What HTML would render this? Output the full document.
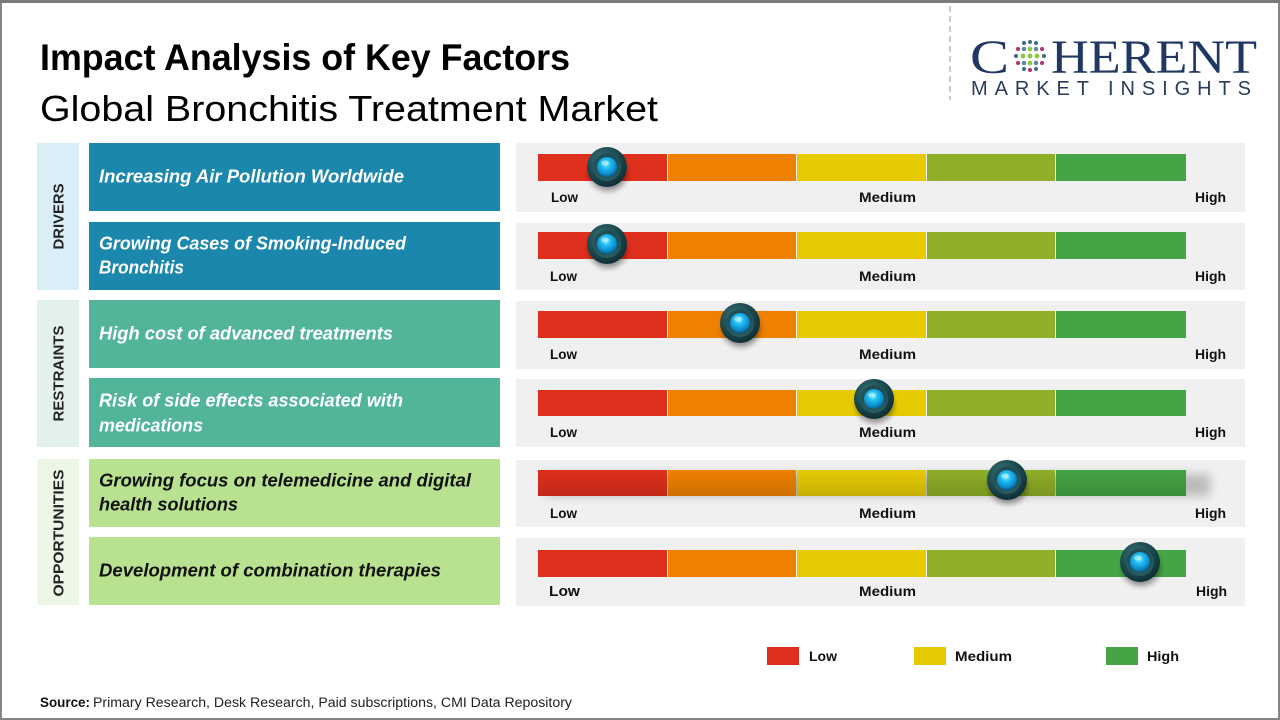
<!DOCTYPE html>
<html>
<head>
<meta charset="utf-8">
<style>
  html,body{margin:0;padding:0;background:#fff;}
  svg{display:block;}
  text{font-family:"Liberation Sans",sans-serif;}
</style>
</head>
<body>
<svg width="1280" height="720" viewBox="0 0 1280 720" xmlns="http://www.w3.org/2000/svg">
  <defs>
    <radialGradient id="ring" cx="40%" cy="35%" r="70%">
      <stop offset="0%" stop-color="#3f7a80"/>
      <stop offset="55%" stop-color="#1c4b51"/>
      <stop offset="100%" stop-color="#0c2c31"/>
    </radialGradient>
    <radialGradient id="inner" cx="50%" cy="40%" r="60%">
      <stop offset="0%" stop-color="#123a40"/>
      <stop offset="100%" stop-color="#2a5e63"/>
    </radialGradient>
    <radialGradient id="ball" cx="45%" cy="35%" r="65%">
      <stop offset="0%" stop-color="#8eeaff"/>
      <stop offset="35%" stop-color="#22bff2"/>
      <stop offset="80%" stop-color="#0a88c8"/>
      <stop offset="100%" stop-color="#0a5c8a"/>
    </radialGradient>
    <filter id="blur4" x="-50%" y="-50%" width="200%" height="200%">
      <feGaussianBlur stdDeviation="3"/>
    </filter>
    <filter id="blur6" x="-20%" y="-100%" width="140%" height="300%">
      <feGaussianBlur stdDeviation="5"/>
    </filter>
    <linearGradient id="dark" x1="0" y1="0" x2="0" y2="1">
      <stop offset="0%" stop-color="#000" stop-opacity="0"/>
      <stop offset="100%" stop-color="#000" stop-opacity="0.14"/>
    </linearGradient>
    <g id="knob">
      <ellipse cx="1" cy="6" rx="19" ry="18" fill="#000" opacity="0.4" filter="url(#blur4)"/>
      <circle cx="0" cy="0" r="20" fill="url(#ring)"/>
      <circle cx="0" cy="0" r="14" fill="url(#inner)"/>
      <circle cx="0" cy="0" r="10" fill="url(#ball)"/>
      <ellipse cx="-2" cy="-4" rx="4" ry="2.5" fill="#c8f6ff" opacity="0.55"/>
    </g>
  </defs>

  <!-- frame -->
  <rect x="0" y="0" width="1280" height="720" fill="#fff"/>
  <rect x="1" y="1" width="1278" height="718" fill="none" stroke="#858585" stroke-width="2"/>
  <line x1="0" y1="1.5" x2="1280" y2="1.5" stroke="#7a7a7a" stroke-width="3"/>

  <!-- titles -->
  <text x="40" y="70" font-size="37" font-weight="bold" fill="#000" textLength="530" lengthAdjust="spacingAndGlyphs">Impact Analysis of Key Factors</text>
  <text x="40" y="121" font-size="36" fill="#000" textLength="618" lengthAdjust="spacingAndGlyphs">Global Bronchitis Treatment Market</text>

  <!-- logo -->
  <line x1="950" y1="6" x2="950" y2="100" stroke="#b8b8b8" stroke-width="1.5" stroke-dasharray="6,4"/>
  <text x="970" y="73" font-size="48" fill="#1f3762" style="font-family:'Liberation Serif',serif" textLength="39" lengthAdjust="spacingAndGlyphs">C</text>
  <g>
    <circle cx="1024" cy="43" r="2" fill="#3d6b8c"/><circle cx="1030" cy="42" r="2" fill="#3d6b8c"/><circle cx="1036" cy="43" r="2" fill="#3d6b8c"/>
    <circle cx="1018" cy="49" r="2" fill="#b0306a"/><circle cx="1024" cy="49" r="2.3" fill="#5b8fa8"/><circle cx="1030" cy="49" r="2.3" fill="#8cc63f"/><circle cx="1036" cy="49" r="2.3" fill="#5b8fa8"/><circle cx="1042" cy="49" r="2" fill="#b0306a"/>
    <circle cx="1016" cy="56" r="2" fill="#3d6b8c"/><circle cx="1023" cy="56" r="2.4" fill="#8cc63f"/><circle cx="1030" cy="56" r="2.5" fill="#8cc63f"/><circle cx="1037" cy="56" r="2.4" fill="#8cc63f"/><circle cx="1044" cy="56" r="2" fill="#3d6b8c"/>
    <circle cx="1018" cy="63" r="2" fill="#b0306a"/><circle cx="1024" cy="63" r="2.3" fill="#5b8fa8"/><circle cx="1030" cy="63" r="2.3" fill="#8cc63f"/><circle cx="1036" cy="63" r="2.3" fill="#5b8fa8"/><circle cx="1042" cy="63" r="2" fill="#b0306a"/>
    <circle cx="1024" cy="69" r="2" fill="#3d6b8c"/><circle cx="1030" cy="70" r="2" fill="#b0306a"/><circle cx="1036" cy="69" r="2" fill="#3d6b8c"/>
  </g>
  <text x="1051" y="73" font-size="48" fill="#1f3762" style="font-family:'Liberation Serif',serif" textLength="206" lengthAdjust="spacingAndGlyphs">HERENT</text>
  <text x="971" y="95" font-size="20" fill="#2b3b5c" textLength="280" lengthAdjust="spacing">MARKET INSIGHTS</text>

  <!-- side category boxes -->
  <rect x="37" y="143" width="42" height="147" fill="#daeef8"/>
  <rect x="37" y="300" width="42" height="147" fill="#e3f1ee"/>
  <rect x="37" y="459" width="42" height="146" fill="#edf7e5"/>
  <text transform="translate(63.5,216.5) rotate(-90)" text-anchor="middle" font-size="15" font-weight="bold" fill="#222" textLength="66" lengthAdjust="spacingAndGlyphs">DRIVERS</text>
  <text transform="translate(63.5,373.5) rotate(-90)" text-anchor="middle" font-size="15" font-weight="bold" fill="#222" textLength="96" lengthAdjust="spacingAndGlyphs">RESTRAINTS</text>
  <text transform="translate(63.5,533) rotate(-90)" text-anchor="middle" font-size="15" font-weight="bold" fill="#222" textLength="127" lengthAdjust="spacingAndGlyphs">OPPORTUNITIES</text>

  <!-- factor boxes -->
  <rect x="89" y="143" width="411" height="68" fill="#1c87ad"/>
  <rect x="89" y="222" width="411" height="68" fill="#1c87ad"/>
  <rect x="89" y="300" width="411" height="68" fill="#52b59a"/>
  <rect x="89" y="378" width="411" height="69" fill="#52b59a"/>
  <rect x="89" y="459" width="411" height="68" fill="#b8e290"/>
  <rect x="89" y="537" width="411" height="68" fill="#b8e290"/>

  <g font-size="18" font-weight="bold" font-style="italic">
    <text x="99" y="182.5" fill="#fff" textLength="305" lengthAdjust="spacingAndGlyphs">Increasing Air Pollution Worldwide</text>
    <text x="99" y="249.5" fill="#fff" textLength="307" lengthAdjust="spacingAndGlyphs">Growing Cases of Smoking-Induced</text>
    <text x="99" y="273.5" fill="#fff" textLength="85" lengthAdjust="spacingAndGlyphs">Bronchitis</text>
    <text x="99" y="339.5" fill="#fff" textLength="294" lengthAdjust="spacingAndGlyphs">High cost of advanced treatments</text>
    <text x="99" y="406.5" fill="#fff" textLength="304" lengthAdjust="spacingAndGlyphs">Risk of side effects associated with</text>
    <text x="99" y="431.5" fill="#fff" textLength="104" lengthAdjust="spacingAndGlyphs">medications</text>
    <text x="99" y="486.5" fill="#111" textLength="372" lengthAdjust="spacingAndGlyphs">Growing focus on telemedicine and digital</text>
    <text x="99" y="510.5" fill="#111" textLength="139" lengthAdjust="spacingAndGlyphs">health solutions</text>
    <text x="99" y="576.5" fill="#111" textLength="342" lengthAdjust="spacingAndGlyphs">Development of combination therapies</text>
  </g>

  <!-- panels -->
  <g fill="#f0f0f1">
    <rect x="516" y="143" width="729" height="69"/>
    <rect x="516" y="223" width="729" height="67"/>
    <rect x="516" y="301" width="729" height="68"/>
    <rect x="516" y="379" width="729" height="68"/>
    <rect x="516" y="460" width="729" height="67"/>
    <rect x="516" y="538" width="729" height="68"/>
  </g>

  <!-- row5 shadow -->
  <rect x="545" y="474" width="665" height="22" fill="#000" opacity="0.22" filter="url(#blur6)"/>

  <!-- bars -->
  <g id="bars">
    <g transform="translate(0,154)">
      <rect x="538" y="0" width="129" height="27" fill="#df2f1d"/><rect x="668" y="0" width="128" height="27" fill="#ee8101"/><rect x="797" y="0" width="129" height="27" fill="#e6cb04"/><rect x="927" y="0" width="128" height="27" fill="#8eaf27"/><rect x="1056" y="0" width="130" height="27" fill="#45a445"/>
    </g>
    <g transform="translate(0,232)">
      <rect x="538" y="0" width="129" height="27" fill="#df2f1d"/><rect x="668" y="0" width="128" height="27" fill="#ee8101"/><rect x="797" y="0" width="129" height="27" fill="#e6cb04"/><rect x="927" y="0" width="128" height="27" fill="#8eaf27"/><rect x="1056" y="0" width="130" height="27" fill="#45a445"/>
    </g>
    <g transform="translate(0,311)">
      <rect x="538" y="0" width="129" height="27" fill="#df2f1d"/><rect x="668" y="0" width="128" height="27" fill="#ee8101"/><rect x="797" y="0" width="129" height="27" fill="#e6cb04"/><rect x="927" y="0" width="128" height="27" fill="#8eaf27"/><rect x="1056" y="0" width="130" height="27" fill="#45a445"/>
    </g>
    <g transform="translate(0,390)">
      <rect x="538" y="0" width="129" height="26" fill="#df2f1d"/><rect x="668" y="0" width="128" height="26" fill="#ee8101"/><rect x="797" y="0" width="129" height="26" fill="#e6cb04"/><rect x="927" y="0" width="128" height="26" fill="#8eaf27"/><rect x="1056" y="0" width="130" height="26" fill="#45a445"/>
    </g>
    <g transform="translate(0,470)">
      <rect x="538" y="0" width="129" height="26" fill="#df2f1d"/><rect x="668" y="0" width="128" height="26" fill="#ee8101"/><rect x="797" y="0" width="129" height="26" fill="#e6cb04"/><rect x="927" y="0" width="128" height="26" fill="#8eaf27"/><rect x="1056" y="0" width="130" height="26" fill="#45a445"/>
      <rect x="538" y="0" width="648" height="26" fill="url(#dark)"/>
    </g>
    <g transform="translate(0,550)">
      <rect x="538" y="0" width="129" height="27" fill="#df2f1d"/><rect x="668" y="0" width="128" height="27" fill="#ee8101"/><rect x="797" y="0" width="129" height="27" fill="#e6cb04"/><rect x="927" y="0" width="128" height="27" fill="#8eaf27"/><rect x="1056" y="0" width="130" height="27" fill="#45a445"/>
    </g>
  </g>

  <!-- scale labels -->
  <g font-size="14" font-weight="bold" fill="#111">
    <text x="551" y="202" textLength="27" lengthAdjust="spacingAndGlyphs">Low</text>
    <text x="859" y="202" textLength="57" lengthAdjust="spacingAndGlyphs">Medium</text>
    <text x="1195" y="202" textLength="31" lengthAdjust="spacingAndGlyphs">High</text>

    <text x="550" y="281" textLength="27" lengthAdjust="spacingAndGlyphs">Low</text>
    <text x="859" y="281" textLength="57" lengthAdjust="spacingAndGlyphs">Medium</text>
    <text x="1195" y="281" textLength="31" lengthAdjust="spacingAndGlyphs">High</text>

    <text x="550" y="359" textLength="27" lengthAdjust="spacingAndGlyphs">Low</text>
    <text x="859" y="359" textLength="57" lengthAdjust="spacingAndGlyphs">Medium</text>
    <text x="1195" y="359" textLength="31" lengthAdjust="spacingAndGlyphs">High</text>

    <text x="550" y="437" textLength="27" lengthAdjust="spacingAndGlyphs">Low</text>
    <text x="859" y="437" textLength="57" lengthAdjust="spacingAndGlyphs">Medium</text>
    <text x="1195" y="437" textLength="31" lengthAdjust="spacingAndGlyphs">High</text>

    <text x="550" y="518" textLength="27" lengthAdjust="spacingAndGlyphs">Low</text>
    <text x="859" y="518" textLength="57" lengthAdjust="spacingAndGlyphs">Medium</text>
    <text x="1195" y="518" textLength="31" lengthAdjust="spacingAndGlyphs">High</text>

    <text x="549" y="596" font-size="15" textLength="31" lengthAdjust="spacingAndGlyphs">Low</text>
    <text x="859" y="596" textLength="57" lengthAdjust="spacingAndGlyphs">Medium</text>
    <text x="1196" y="596" textLength="31" lengthAdjust="spacingAndGlyphs">High</text>
  </g>

  <!-- knobs -->
  <use href="#knob" x="607" y="167"/>
  <use href="#knob" x="607" y="244"/>
  <use href="#knob" x="740" y="323"/>
  <use href="#knob" x="874" y="399"/>
  <use href="#knob" x="1007" y="480"/>
  <use href="#knob" x="1140" y="562"/>

  <!-- legend -->
  <rect x="767" y="647" width="32" height="18" fill="#df2f1d"/>
  <text x="809" y="661" font-size="14" font-weight="bold" fill="#111" textLength="28" lengthAdjust="spacingAndGlyphs">Low</text>
  <rect x="914" y="647" width="32" height="18" fill="#e6cb04"/>
  <text x="955" y="661" font-size="14" font-weight="bold" fill="#111" textLength="57" lengthAdjust="spacingAndGlyphs">Medium</text>
  <rect x="1106" y="647" width="32" height="18" fill="#45a445"/>
  <text x="1147" y="661" font-size="14" font-weight="bold" fill="#111" textLength="32" lengthAdjust="spacingAndGlyphs">High</text>

  <!-- source -->
  <text x="40" y="707" font-size="13.5" font-weight="bold" fill="#111" textLength="50" lengthAdjust="spacingAndGlyphs">Source:</text>
  <text x="93" y="707" font-size="13.5" fill="#222" textLength="479" lengthAdjust="spacingAndGlyphs">Primary Research, Desk Research, Paid subscriptions, CMI Data Repository</text>
</svg>
</body>
</html>
